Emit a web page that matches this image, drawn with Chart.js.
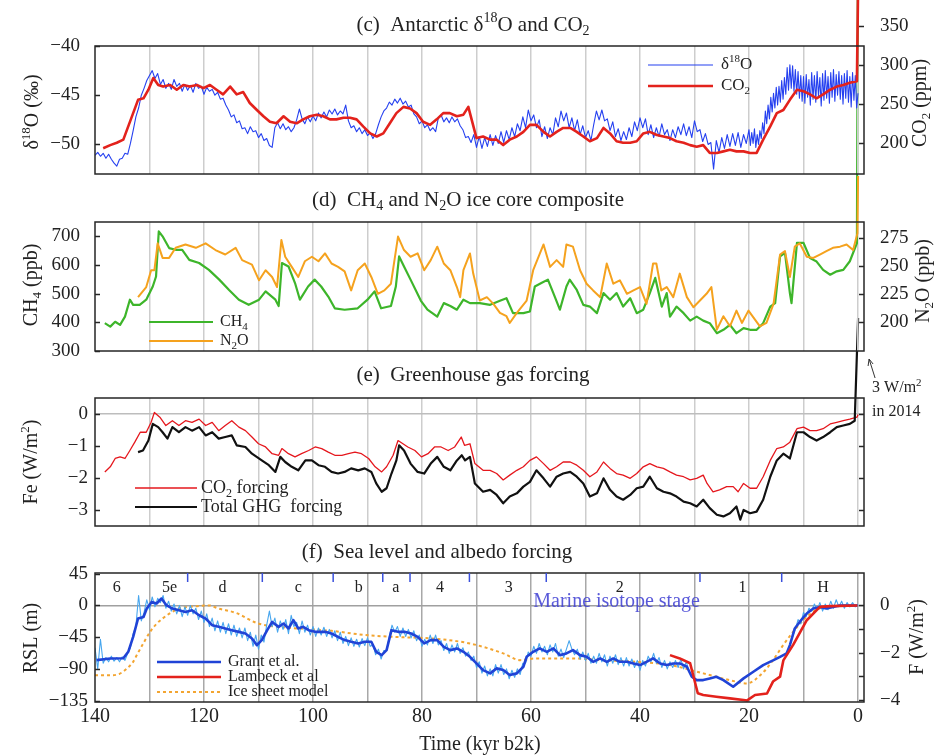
<!DOCTYPE html>
<html>
<head>
<meta charset="utf-8">
<title>Glacial cycle records</title>
<script src="https://cdn.jsdelivr.net/npm/chart.js@4.4.1/dist/chart.umd.min.js"></script>
<style>
  html, body { margin: 0; padding: 0; background: #fff; }
  #wrap { position: relative; width: 938px; height: 756px; }
  #wrap canvas { position: absolute; left: 0; top: 0; }
</style>
</head>
<body>
<div id="wrap">
  <canvas id="panelF" width="938" height="756"></canvas>
  <canvas id="panelE" width="938" height="756"></canvas>
  <canvas id="panelD" width="938" height="756"></canvas>
  <canvas id="panelC" width="938" height="756"></canvas>
</div>
<script>
// all ages in kyr b2k, time runs right to left
const timeTicks = [140, 130, 120, 110, 100, 90, 80, 70, 60, 50, 40, 30, 20, 10, 0];

// (c) Antarctic d18O: every 0.5 kyr from 140 to 20.5 kyr ...
const d18oStart = 140, d18oStep = 0.5;
const d18o = [
  -51.1, -50.8, -51.2, -50.9, -51.4, -51.0, -51.5, -51.9, -52.2, -51.5,
  -51.4, -50.9, -51.0, -49.9, -48.6, -47.2, -46.3, -45.0, -44.3, -43.5,
  -43.0, -42.5, -43.3, -42.8, -43.9, -43.4, -44.3, -43.8, -44.4, -43.4,
  -44.1, -43.8, -44.6, -43.9, -44.5, -44.0, -44.7, -43.8, -44.3, -44.1,
  -44.9, -44.2, -44.6, -44.4, -45.0, -44.7, -45.4, -45.3, -46.0, -46.5,
  -47.2, -47.0, -47.8, -47.6, -48.4, -48.3, -48.9, -48.2, -48.7, -48.6,
  -49.3, -48.9, -49.6, -49.4, -50.1, -50.3, -48.3, -47.8, -48.4, -47.9,
  -48.5, -48.2, -48.7, -48.3, -47.5, -46.4, -47.4, -47.9, -47.2, -47.7,
  -47.1, -47.6, -46.8, -47.3, -46.7, -47.2, -46.5, -46.9, -46.4, -47.0,
  -46.6, -46.9, -46.0, -47.6, -48.3, -48.1, -48.7, -48.3, -48.9, -48.5,
  -49.1, -48.8, -49.4, -48.9, -48.0, -47.2, -46.6, -46.3, -45.7, -46.0,
  -45.4, -45.8, -45.3, -45.9, -45.6, -46.2, -46.0, -46.9, -47.2, -47.9,
  -47.6, -48.3, -48.0, -48.6, -48.3, -48.7, -47.3, -47.0, -47.7, -47.3,
  -47.8, -47.2, -47.7, -47.4, -48.1, -48.5, -49.3, -49.2, -49.8, -49.0,
  -50.3, -49.2, -50.4, -49.3, -50.2, -49.0, -50.1, -49.1, -49.9, -48.7,
  -49.8, -48.6, -49.5, -48.3, -49.2, -47.9, -48.6, -47.2, -48.3, -46.5,
  -47.6, -47.0, -48.3, -47.5, -49.2, -48.2, -49.4, -48.3, -49.0, -47.3,
  -48.2, -46.6, -47.6, -46.8, -48.3, -47.3, -48.6, -47.5, -49.0, -48.1,
  -49.3, -48.6, -49.6, -48.0, -46.6, -47.5, -46.5, -47.6, -47.4, -48.6,
  -47.7, -49.2, -48.4, -49.6, -48.7, -49.5, -48.3, -49.2, -47.7, -48.6,
  -47.3, -48.3, -47.4, -49.0, -48.0, -49.3, -48.3, -49.2, -47.9, -49.0,
  -48.5, -49.6, -48.5, -49.3, -48.2, -49.0, -47.9, -49.1, -48.2, -49.3,
  -47.6, -48.7, -48.5, -49.7, -48.9, -50.0, -49.8, -52.5, -49.6, -50.8,
  -49.3, -50.4, -49.0, -50.2, -48.9, -50.1, -48.8, -50.3, -49.0, -49.9
];
// ... and every 0.25 kyr from 20 kyr to the present
const d18oLateStart = 20, d18oLateStep = 0.25;
const d18oLate = [
  -48.5, -50.1, -48.8, -49.9, -48.4, -50.3, -49.0, -50.0, -48.6, -49.4,
  -47.8, -48.9, -46.6, -47.9, -46.0, -47.4, -45.2, -46.7, -44.8, -46.3,
  -44.2, -46.0, -44.1, -45.7, -43.5, -45.4, -43.2, -44.9, -42.2, -44.5,
  -41.9, -44.3, -42.0, -44.6, -42.4, -44.9, -42.6, -45.3, -43.0, -45.6,
  -43.1, -45.8, -42.9, -45.2, -43.4, -46.0, -42.7, -45.4, -43.0, -45.7,
  -42.6, -45.1, -43.2, -46.1, -42.8, -45.5, -42.5, -45.3, -43.1, -45.8,
  -42.7, -45.2, -42.4, -45.6, -42.9, -45.0, -42.6, -45.4, -43.0, -45.9,
  -42.8, -45.3, -42.5, -45.7, -43.1, -46.2, -42.7, -45.5, -43.0, -46.3,
  -44.8
];

// (c) CO2 (ppm); the last point is the 2014 value
const co2Age = [
  138.5, 137.2, 136.0, 134.8, 133.9, 133.0, 132.1, 131.1, 130.2, 129.3,
  128.4, 127.5, 126.2, 125.0, 123.8, 122.6, 121.3, 120.1, 118.9, 117.7,
  116.5, 115.2, 114.0, 112.8, 111.6, 110.3, 109.1, 107.9, 106.7, 105.4,
  104.2, 103.0, 101.8, 100.6, 99.3, 98.1, 96.9, 95.7, 94.4, 93.2,
  92.0, 90.8, 89.5, 88.3, 87.1, 85.9, 84.7, 83.4, 82.2, 81.0,
  79.8, 78.5, 77.3, 76.1, 74.9, 73.6, 72.4, 71.5, 70.0, 68.8,
  67.5, 66.3, 65.1, 63.9, 62.6, 61.4, 60.2, 59.0, 57.7, 56.5,
  55.3, 54.1, 52.8, 51.6, 50.4, 49.2, 47.9, 46.7, 45.5, 44.3,
  43.1, 41.8, 40.6, 39.4, 38.2, 36.9, 35.7, 34.5, 33.3, 32.0,
  30.8, 29.6, 28.4, 27.2, 25.9, 24.7, 23.5, 22.3, 21.0, 19.8,
  18.6, 17.4, 16.1, 14.9, 13.7, 12.5, 11.2, 10.0, 8.8, 7.6,
  6.4, 5.1, 3.9, 2.7, 1.5, 0.2, -0.014
];
const co2Ppm = [
  193, 197, 200, 204, 221, 238, 255, 257, 268, 283,
  274, 272, 274, 268, 274, 272, 274, 270, 274, 268,
  262, 272, 262, 265, 251, 242, 234, 227, 225, 234,
  227, 225, 230, 234, 236, 234, 230, 230, 232, 232,
  230, 221, 212, 208, 212, 225, 238, 246, 244, 238,
  227, 223, 230, 238, 238, 234, 236, 246, 206, 208,
  204, 204, 197, 204, 208, 214, 223, 223, 214, 208,
  214, 219, 219, 214, 208, 202, 206, 219, 212, 202,
  200, 200, 202, 212, 214, 210, 208, 206, 202, 200,
  197, 195, 197, 187, 187, 189, 191, 189, 189, 187,
  187, 204, 221, 238, 242, 255, 268, 266, 262, 257,
  262, 268, 272, 274, 277, 279, 398
];
const d18oTicks = [-50, -45, -40];
const co2Ticks = [200, 250, 300, 350];

// (d) CH4 and N2O (ppb)
const ch4Age = [
  138.2, 137.2, 136.3, 135.4, 134.5, 133.6, 133.0, 131.8, 130.6, 129.4,
  128.8, 128.3, 127.6, 126.4, 125.2, 124.0, 122.7, 120.9, 119.1, 117.2,
  115.4, 113.6, 111.8, 109.9, 108.7, 106.9, 106.3, 105.7, 104.5, 103.3,
  102.4, 100.9, 99.7, 98.5, 97.2, 96.0, 94.2, 91.8, 90.0, 88.7,
  87.5, 85.7, 84.8, 84.2, 83.3, 82.1, 80.2, 79.0, 77.2, 76.0,
  74.8, 73.6, 72.4, 71.2, 69.4, 67.5, 65.7, 64.5, 63.3, 61.4,
  60.2, 59.3, 58.1, 56.9, 55.9, 54.7, 53.5, 52.9, 51.6, 50.4,
  49.2, 47.9, 46.7, 45.5, 44.3, 43.1, 41.8, 40.6, 39.4, 38.2,
  37.2, 36.0, 35.1, 34.5, 33.3, 32.0, 30.8, 29.6, 28.4, 27.2,
  25.9, 24.7, 23.5, 22.3, 21.0, 19.8, 18.6, 17.4, 16.1, 15.2,
  14.3, 13.4, 12.5, 12.2, 11.2, 10.0, 8.8, 7.6, 6.4, 5.1,
  3.9, 2.7, 1.5, 0.2, -0.014
];
const ch4Ppb = [
  397, 385, 402, 391, 420, 479, 461, 461, 479, 525,
  560, 717, 700, 659, 653, 653, 618, 607, 583, 549,
  513, 479, 461, 479, 508, 479, 457, 607, 595, 537,
  479, 525, 549, 525, 490, 449, 444, 449, 479, 508,
  449, 457, 525, 630, 595, 549, 475, 444, 420, 467,
  457, 444, 479, 467, 467, 461, 475, 484, 432, 432,
  438, 525, 537, 549, 502, 444, 525, 549, 513, 461,
  455, 432, 502, 479, 502, 455, 484, 432, 444, 502,
  555, 455, 502, 420, 455, 432, 406, 420, 406, 397,
  362, 374, 391, 362, 380, 374, 374, 397, 455, 467,
  630, 642, 502, 467, 677, 677, 624, 612, 583, 566,
  578, 583, 613, 676, 1830
];
const n2oAge = [
  132.1, 130.6, 129.7, 129.1, 128.5, 127.6, 126.4, 125.2, 123.4, 121.5,
  119.7, 117.9, 116.1, 114.2, 113.0, 111.2, 109.9, 108.7, 107.5, 106.6,
  105.8, 105.1, 103.9, 102.7, 101.5, 100.2, 99.0, 97.8, 96.6, 95.4,
  94.2, 93.0, 91.8, 90.5, 89.3, 88.1, 86.9, 85.7, 84.4, 83.3,
  82.1, 80.8, 79.6, 78.4, 77.2, 76.0, 74.8, 73.6, 73.0, 72.4,
  71.2, 70.6, 69.4, 68.1, 66.9, 65.7, 64.5, 63.9, 62.6, 60.8,
  59.6, 57.7, 56.5, 55.3, 54.1, 53.5, 52.3, 51.0, 49.8, 48.6,
  47.3, 46.1, 44.9, 43.7, 42.4, 41.2, 40.0, 38.8, 37.6, 37.0,
  36.1, 35.1, 33.9, 32.7, 31.4, 30.2, 29.0, 27.8, 26.9, 25.9,
  24.7, 23.5, 22.3, 21.3, 20.1, 18.9, 18.0, 16.8, 15.5, 14.3,
  13.4, 12.5, 11.6, 10.7, 9.4, 8.2, 7.0, 5.8, 4.6, 3.3,
  2.1, 0.9, 0.1, -0.014
];
const n2oPpb = [
  222, 231, 246, 246, 270, 257, 257, 266, 269, 266,
  270, 264, 260, 266, 255, 251, 237, 246, 240, 231,
  273, 258, 249, 240, 254, 258, 254, 261, 252, 249,
  245, 228, 246, 252, 240, 225, 228, 234, 276, 264,
  258, 261, 246, 255, 267, 252, 246, 231, 222, 246,
  261, 243, 219, 222, 216, 208, 205, 199, 208, 219,
  246, 269, 249, 255, 249, 269, 267, 246, 234, 228,
  222, 252, 234, 237, 225, 228, 231, 216, 252, 252,
  228, 231, 222, 243, 222, 213, 219, 225, 231, 193,
  205, 196, 210, 199, 210, 202, 196, 199, 216, 260,
  263, 240, 267, 270, 258, 257, 260, 263, 266, 267,
  269, 264, 279, 330
];
const ch4Ticks = [300, 400, 500, 600, 700];
const n2oTicks = [200, 225, 250, 275];

// (e) greenhouse gas forcing (W/m2)
const fCo2Age = [
  138.2, 137.2, 136.3, 135.4, 134.5, 133.6, 132.7, 131.7, 130.6, 129.7,
  129.1, 128.1, 127.0, 125.8, 124.6, 123.4, 122.2, 120.9, 119.7, 118.5,
  117.3, 116.1, 114.9, 113.6, 112.4, 111.2, 110.0, 108.7, 107.5, 106.3,
  105.7, 104.5, 103.3, 102.1, 100.8, 99.6, 98.4, 97.2, 96.0, 94.7,
  93.5, 92.3, 91.1, 89.8, 88.6, 87.4, 86.5, 85.3, 84.4, 83.5,
  82.6, 81.3, 80.1, 78.9, 77.7, 76.5, 75.2, 74.0, 72.8, 72.2,
  71.2, 70.3, 68.8, 67.5, 66.3, 65.1, 63.9, 62.6, 61.4, 60.2,
  59.0, 57.7, 56.5, 55.3, 54.1, 52.8, 51.6, 50.4, 49.2, 47.9,
  46.7, 45.5, 44.3, 43.1, 41.8, 40.6, 39.4, 38.2, 36.9, 35.7,
  34.5, 33.3, 32.0, 30.8, 29.6, 28.4, 27.7, 26.6, 25.4, 24.1,
  22.9, 22.0, 21.0, 19.8, 18.6, 17.4, 16.1, 14.9, 13.7, 12.5,
  11.2, 10.0, 8.8, 7.6, 6.4, 5.1, 3.9, 2.7, 1.5, 0.2,
  -0.014
];
const fCo2 = [
  -1.81, -1.65, -1.39, -1.34, -1.39, -1.14, -0.88, -0.57, -0.57, -0.26,
  0.05, -0.10, -0.36, -0.21, -0.36, -0.21, -0.26, -0.16, -0.36, -0.26,
  -0.52, -0.36, -0.21, -0.41, -0.52, -0.72, -0.93, -1.03, -1.24, -1.29,
  -1.08, -1.24, -1.34, -1.24, -1.14, -1.03, -1.08, -1.19, -1.29, -1.29,
  -1.24, -1.19, -1.24, -1.39, -1.65, -1.81, -1.65, -1.29, -0.83, -0.93,
  -1.03, -1.14, -1.34, -1.24, -1.03, -1.03, -1.14, -1.03, -0.72, -0.98,
  -0.93, -1.55, -1.76, -1.76, -1.86, -2.06, -1.91, -1.76, -1.65, -1.45,
  -1.34, -1.55, -1.76, -1.65, -1.50, -1.50, -1.60, -1.76, -1.96, -1.81,
  -1.50, -1.70, -1.86, -1.91, -2.01, -1.86, -1.65, -1.55, -1.65, -1.70,
  -1.81, -1.91, -1.96, -2.06, -2.01, -1.91, -2.17, -2.43, -2.37, -2.27,
  -2.27, -2.43, -2.17, -2.32, -2.32, -1.96, -1.45, -1.08, -1.03, -0.88,
  -0.46, -0.41, -0.52, -0.52, -0.46, -0.31, -0.26, -0.21, -0.16, -0.10,
  -0.02
];
const fTotalAge = [
  132.1, 131.2, 130.2, 129.4, 128.4, 127.6, 126.7, 125.8, 124.6, 123.4,
  122.2, 120.9, 119.7, 118.5, 117.3, 116.1, 114.9, 114.0, 112.4, 111.2,
  109.4, 108.1, 106.9, 106.0, 105.1, 103.9, 102.7, 101.4, 100.2, 99.0,
  97.8, 96.6, 95.4, 94.2, 93.0, 91.7, 90.5, 89.3, 88.4, 87.4,
  86.5, 85.6, 84.7, 84.2, 83.3, 82.1, 80.8, 79.6, 78.4, 77.2,
  76.0, 74.8, 73.6, 72.7, 72.1, 71.2, 70.3, 68.8, 67.5, 66.3,
  65.1, 63.9, 62.6, 61.4, 60.2, 59.0, 57.7, 56.5, 55.3, 54.1,
  52.8, 51.6, 50.4, 49.2, 47.9, 46.7, 45.5, 44.3, 43.1, 41.8,
  40.6, 39.4, 38.2, 36.9, 35.7, 34.5, 33.3, 32.0, 30.8, 29.6,
  28.4, 27.2, 25.9, 24.7, 23.5, 22.3, 21.6, 21.0, 19.8, 18.6,
  17.4, 16.1, 14.9, 13.7, 12.5, 11.2, 10.0, 8.8, 7.6, 6.4,
  5.1, 3.9, 2.7, 1.5, 0.6, -0.014
];
const fTotal = [
  -1.19, -1.14, -0.83, -0.31, -0.41, -0.57, -0.77, -0.41, -0.57, -0.41,
  -0.52, -0.41, -0.67, -0.57, -0.77, -0.72, -0.67, -0.98, -1.03, -1.24,
  -1.45, -1.60, -1.81, -1.34, -1.50, -1.65, -1.76, -1.45, -1.45, -1.60,
  -1.65, -1.81, -1.86, -1.81, -1.70, -1.76, -1.70, -1.81, -2.17, -2.43,
  -2.32, -1.86, -1.45, -0.98, -1.14, -1.55, -1.81, -1.86, -1.55, -1.34,
  -1.65, -1.76, -1.45, -1.29, -1.45, -1.34, -2.17, -2.43, -2.37, -2.53,
  -2.79, -2.58, -2.48, -2.27, -2.12, -1.76, -2.01, -2.27, -1.96, -1.86,
  -1.81, -1.96, -2.17, -2.58, -2.48, -2.01, -2.37, -2.58, -2.68, -2.53,
  -2.32, -2.27, -1.96, -2.32, -2.43, -2.48, -2.58, -2.74, -2.79, -2.89,
  -2.68, -2.94, -3.15, -3.20, -3.10, -2.89, -3.30, -3.00, -3.10, -3.05,
  -2.68, -1.96, -1.45, -1.24, -1.39, -0.57, -0.57, -0.72, -0.83, -0.72,
  -0.57, -0.41, -0.36, -0.31, -0.21, 3.0
];
const feTicks = [-3, -2, -1, 0];

// (f) relative sea level (m); raw record every 0.5 kyr from 140 kyr, null = no data
const rslStart = 140, rslStep = 0.5;
const rslRaw = [
  -60, -90, -48, -82, -74, -80, -72, -79, -74, -80,
  -73, -78, -68, -60, -40, -30, 14, -22, -10, 8,
  -6, 12, -2, 10, 4, 14, -4, 6, -8, 2,
  -12, 0, -16, -2, -14, 0, -12, -4, -20, -8,
  -24, -12, -30, -18, -36, -22, -38, -24, -40, -26,
  -42, -28, -44, -32, -46, -32, -50, -38, -58, -42,
  -62, -42, -52, -28, -8, -30, -18, -38, -22, -34,
  -20, -40, -14, -30, -24, -40, -22, -38, -28, -42,
  -30, -44, -32, -42, -31, -44, -34, -46, -36, -50,
  -38, -54, -44, -57, -46, -58, -48, -59, -47, -57,
  -46, -58, -56, -70, -62, -76, -64, -64, -44, -28,
  -38, -30, -44, -32, -44, -34, -46, -36, -50, -42,
  -58, -48, -56, -42, -54, -42, -56, -50, -64, -54,
  -68, -56, -66, -54, -68, -60, -72, -66, -78, -72,
  -88, -80, -96, -86, -100, -90, -100, -84, -96, -84,
  -98, -90, -104, -92, -102, -90, -98, -82, -82, -66,
  -72, -58, -68, -54, -66, -58, -70, -56, -66, -54,
  -72, -62, -74, -62, -50, -62, -70, -62, -76, -66,
  -78, -68, -82, -72, -82, -68, -80, -70, -86, -72,
  -82, -70, -84, -74, -86, -74, -86, -76, -88, -78,
  -92, -78, -86, -72, -80, -68, -82, -74, -88, -78,
  -90, -80, -88, -78, -88, -76, -90, -80, -94, -98,
  -102, null, null, null, null, null, null, null, null, null,
  null, null, null, null, null, null, null, null, null, null,
  null, null, null, null, null, null, null, null, null, null,
  null, null, null, null, null, null, -44, -34, -20, -26,
  -10, -16, -4, -8, 2, -6, 4, -8, 2, -6,
  6, -4, 8, -2, 6, -4, 4, -2, 4, -2,
  2
];
const grantAge = [
  139.7, 137.2, 134.8, 133.9, 133.0, 132.1, 131.1, 130.5, 129.6, 128.7,
  127.8, 126.9, 125.8, 124.6, 123.4, 122.2, 120.9, 119.7, 118.5, 117.3,
  116.1, 114.9, 113.6, 112.4, 111.2, 110.3, 109.4, 108.4, 107.5, 106.3,
  105.4, 104.5, 103.6, 102.7, 101.8, 100.8, 99.6, 97.8, 96.6, 95.4,
  94.2, 93.0, 91.7, 90.5, 89.3, 88.4, 87.4, 86.5, 85.6, 84.4,
  83.2, 82.0, 80.8, 79.6, 78.4, 77.2, 76.0, 74.8, 73.6, 72.4,
  71.2, 70.0, 68.8, 67.5, 66.3, 65.1, 63.9, 62.6, 61.4, 60.8,
  59.6, 58.4, 57.1, 55.9, 54.7, 53.5, 52.3, 51.0, 49.8, 48.6,
  47.3, 46.1, 44.9, 43.7, 42.4, 41.2, 40.0, 38.8, 37.6, 36.3,
  35.1, 33.9, 32.7, 31.4, 30.5, 29.6, 28.4, 27.2, 26.0, 24.7,
  22.9, 21.0, 19.2, 17.4, 15.5, 14.3, 13.1, 12.5, 11.6, 10.7,
  9.4, 8.2, 7.0, 5.8, 4.6, 3.3, 2.1, 0.9, 0.1
];
const grantRsl = [
  -77.6, -75.2, -75.0, -65.8, -44.6, -18.6, -16.3, -4.4, 5.0, 2.7,
  9.8, 0.3, -4.4, -6.8, -9.2, -6.8, -13.9, -18.6, -28.0, -30.4,
  -32.7, -35.1, -37.5, -39.8, -46.8, -56.3, -49.2, -35.1, -23.4, -30.4,
  -25.6, -32.7, -20.9, -32.7, -30.4, -35.1, -37.5, -37.5, -39.8, -44.6,
  -49.2, -51.6, -53.9, -51.6, -51.6, -65.8, -70.5, -63.4, -35.1, -37.5,
  -37.5, -39.8, -44.6, -53.9, -49.2, -49.2, -58.7, -63.4, -61.0, -65.8,
  -72.9, -82.3, -91.7, -96.4, -89.3, -91.7, -98.8, -96.4, -87.0, -72.9,
  -65.8, -61.0, -65.8, -61.0, -70.5, -68.1, -63.4, -70.5, -72.9, -80.0,
  -75.2, -80.0, -75.2, -80.0, -80.0, -82.3, -84.6, -80.0, -75.2, -82.3,
  -84.6, -82.3, -82.3, -87.0, -101.2, -105.9, -105.9, -103.5, -101.2, -105.9,
  -115.3, -103.5, -94.1, -84.6, -77.6, -72.9, -68.1, -56.3, -32.7, -23.4,
  -11.5, -4.4, -2.1, -4.4, -2.1, 0, 0, 0, 0
];
const lambeckAge = [34.5, 32.7, 30.8, 29.4, 28.4, 26.0, 23.5, 21.0, 20.4, 18.9,
  16.7, 15.6, 14.3, 13.7, 11.9, 9.4, 7.0, 5.1, 0.1];
const lambeckRsl = [-70.5, -75.2, -82.0, -124.6, -127.0, -129.5, -131.8, -134.2, -135.0, -127.0,
  -125.0, -108.0, -101.0, -78.0, -56.0, -21.0, -2.0, -1.0, 0];
const iceAge = [
  140, 137, 135.5, 134.2, 133.0, 132.3, 131.0, 129.9, 128.7, 127.5,
  126.0, 124.4, 121.3, 119.0, 117.5, 114.0, 110.3, 107.0, 104.0, 100.0,
  96.6, 90.5, 84.0, 78.0, 71.2, 65.1, 62.0, 59.0, 52.8, 46.7,
  40.6, 34.5, 28.4, 22.3, 20.4, 17.4, 15.6, 13.7, 11.9, 9.4,
  7.0, 4.5, 0
];
const iceRsl = [
  -99, -99, -97, -90, -80, -70, -52, -37.5, -26, -18,
  -10, -4, -1, 0, -4, -11, -25, -30, -32, -34,
  -36, -42, -45, -47, -54, -68, -77.6, -75.2, -75.2, -77.6,
  -80, -84.6, -96.4, -108.2, -110.6, -95, -77.6, -56, -37.5, -16,
  -4, -1, 0
];
const rslTicks = [-135, -90, -45, 0, 45];
const albedoTicks = [-4, -3, -2, -1, 0];

// marine isotope stages
const misNames = ['6', '5e', 'd', 'c', 'b', 'a', '4', '3', '2', '1', 'H'];
const misAges = [136, 126.3, 116.6, 102.7, 91.6, 84.8, 76.7, 64.1, 43.7, 21.2, 6.4];
const misBounds = [123, 109.3, 96.3, 87.2, 82.2, 71.3, 57.2, 29.0, 14.0];
const misTitleAge = 44.3;

// ---- drawing ----
const W = 938, H = 756, PLOT_L = 95, PLOT_R = 864;
const FONT = '"Liberation Serif", "Times New Roman", "DejaVu Serif", serif';
Chart.defaults.font.family = FONT;
Chart.defaults.color = '#222';

const xy = (ages, vals) => ages.map((a, i) => ({ x: a, y: vals[i] }));
const stepped = (start, step, vals) => vals.map((v, i) => ({ x: start - i * step, y: v }));
const minus = v => String(v).replace('-', '\u2212');

// text with _{sub} and ^{sup} parts
function richParts(str) {
  const parts = [];
  const re = /([_^])\{([^}]*)\}/g;
  let last = 0, m;
  while ((m = re.exec(str))) {
    if (m.index > last) parts.push({ t: str.slice(last, m.index), k: '' });
    parts.push({ t: m[2], k: m[1] });
    last = re.lastIndex;
  }
  if (last < str.length) parts.push({ t: str.slice(last), k: '' });
  return parts;
}
function drawRich(ctx, str, x, y, size, align, color) {
  const parts = richParts(str);
  const fontFor = k => (k ? Math.round(size * 0.66) : size) + 'px ' + FONT;
  let w = 0;
  parts.forEach(p => { ctx.font = fontFor(p.k); p.w = ctx.measureText(p.t).width; w += p.w; });
  let cx = align === 'center' ? x - w / 2 : align === 'right' ? x - w : x;
  ctx.fillStyle = color || '#222';
  ctx.textAlign = 'left';
  ctx.textBaseline = 'middle';
  parts.forEach(p => {
    ctx.font = fontFor(p.k);
    const dy = p.k === '^' ? -size * 0.33 : p.k === '_' ? size * 0.3 : 0;
    ctx.fillText(p.t, cx, y + dy);
    cx += p.w;
  });
}

function drawLegend(ctx, chart, L) {
  L.rows.forEach(([dsIndex, y, text]) => {
    const ds = chart.data.datasets[dsIndex];
    ctx.save();
    ctx.strokeStyle = ds.borderColor;
    ctx.lineWidth = ds.borderWidth;
    ctx.setLineDash(ds.borderDash || []);
    ctx.beginPath();
    ctx.moveTo(L.x0, y);
    ctx.lineTo(L.x1, y);
    ctx.stroke();
    ctx.restore();
    drawRich(ctx, text || ds.label, L.tx, y, L.size, 'left');
  });
}

const decorations = {
  panelC: {
    title: ['(c)  Antarctic δ^{18}O and CO_{2}', 473, 25],
    axisTitles: [['δ^{18}O (‰)', 33, 112], ['CO_{2} (ppm)', 921, 103]],
    legend: { x0: 648, x1: 713, tx: 721, size: 17, rows: [[1, 65], [0, 86]] }
  },
  panelD: {
    title: ['(d)  CH_{4} and N_{2}O ice core composite', 468, 200],
    axisTitles: [['CH_{4} (ppb)', 32, 285], ['N_{2}O (ppb)', 924, 281]],
    legend: { x0: 149, x1: 213, tx: 220, size: 16, rows: [[1, 322], [0, 341]] }
  },
  panelE: {
    title: ['(e)  Greenhouse gas forcing', 473, 375],
    axisTitles: [['Fe (W/m^{2})', 32, 462]],
    legend: { x0: 135, x1: 197, tx: 201, size: 18, rows: [[1, 488], [0, 507]] },
    extra(chart, ctx) {
      // arrow and note for the 2014 value
      const n = fTotalAge.length - 1;
      const sx = chart.scales.x.getPixelForValue(fTotalAge[n]);
      const sy = chart.scales.yL.getPixelForValue(fTotal[n]);
      ctx.strokeStyle = '#333';
      ctx.lineWidth = 1;
      ctx.beginPath();
      ctx.moveTo(sx + 17, sy + 60); ctx.lineTo(sx + 11, sy + 41);
      ctx.moveTo(sx + 11, sy + 41); ctx.lineTo(sx + 10, sy + 48);
      ctx.moveTo(sx + 11, sy + 41); ctx.lineTo(sx + 15, sy + 46);
      ctx.stroke();
      drawRich(ctx, '3 W/m^{2}', sx + 14, sy + 70, 16, 'left');
      drawRich(ctx, 'in 2014', sx + 14, sy + 94, 16, 'left');
    }
  },
  panelF: {
    title: ['(f)  Sea level and albedo forcing', 437, 552],
    axisTitles: [['RSL (m)', 32, 638], ['F (W/m^{2})', 918, 637]],
    legend: { x0: 157, x1: 221, tx: 228, size: 16, rows: [[1, 662], [0, 677], [3, 692]] },
    extra(chart, ctx) {
      const x = chart.scales.x, a = chart.chartArea;
      ctx.strokeStyle = '#3a50dc';
      ctx.lineWidth = 1.5;
      misBounds.forEach(t => {
        const px = x.getPixelForValue(t);
        ctx.beginPath(); ctx.moveTo(px, a.top); ctx.lineTo(px, a.top + 9); ctx.stroke();
      });
      misNames.forEach((s, i) => drawRich(ctx, s, x.getPixelForValue(misAges[i]), a.top + 15, 16, 'center'));
      drawRich(ctx, 'Marine isotope stage', x.getPixelForValue(misTitleAge), a.top + 29, 20, 'center', 'rgba(60,60,210,0.85)');
      drawRich(ctx, 'Time (kyr b2k)', 480, 745, 20, 'center');
    }
  }
};

const decorPlugin = {
  id: 'decor',
  afterDraw(chart) {
    const d = decorations[chart.canvas.id];
    const { ctx, chartArea: a } = chart;
    ctx.save();
    ctx.strokeStyle = '#262626';
    ctx.lineWidth = 1.5;
    ctx.strokeRect(a.left, a.top, a.right - a.left, a.bottom - a.top);
    // short tick marks pointing into the plot
    ['yL', 'yR'].forEach(id => {
      const s = chart.scales[id];
      if (!s) return;
      const x0 = s.position === 'left' ? a.left : a.right;
      const dir = s.position === 'left' ? 1 : -1;
      s.ticks.forEach(t => {
        const y = Math.round(s.getPixelForValue(t.value)) + 0.5;
        ctx.beginPath(); ctx.moveTo(x0, y); ctx.lineTo(x0 + dir * 5, y); ctx.stroke();
      });
    });
    drawRich(ctx, d.title[0], d.title[1], d.title[2], 21, 'center');
    d.axisTitles.forEach(([t, x, y]) => {
      ctx.save();
      ctx.translate(x, y);
      ctx.rotate(-Math.PI / 2);
      drawRich(ctx, t, 0, 0, 20, 'center');
      ctx.restore();
    });
    drawLegend(ctx, chart, d.legend);
    if (d.extra) d.extra(chart, ctx);
    ctx.restore();
  }
};

function xAxis(showLabels, gridColor) {
  return {
    type: 'linear', reverse: true, min: -1.1, max: 140,
    afterBuildTicks: s => { s.ticks = timeTicks.map(v => ({ value: v })); },
    afterFit: s => { s.height = showLabels ? H - 702 : 0; },
    border: { display: false },
    grid: { drawTicks: false, lineWidth: 1.5, color: c => (c.tick && c.tick.value === 140 ? 'rgba(0,0,0,0)' : gridColor) },
    ticks: {
      display: showLabels, padding: 3, maxRotation: 0, autoSkip: false,
      font: { size: 20, family: FONT }, color: '#222',
      callback: v => (v % 20 === 0 ? String(v) : '')
    }
  };
}

function yAxis(side, min, max, ticks, opts = {}) {
  return {
    type: 'linear', position: side, min, max,
    afterBuildTicks: s => { s.ticks = ticks.map(v => ({ value: v })); },
    afterFit: s => { s.width = side === 'left' ? PLOT_L : W - PLOT_R; },
    border: { display: false },
    grid: opts.zeroLine
      ? { drawTicks: false, lineWidth: 1.5, color: c => (c.tick && c.tick.value === 0 ? opts.zeroLine : 'rgba(0,0,0,0)') }
      : { display: false },
    ticks: {
      display: opts.labels !== false, autoSkip: false,
      padding: side === 'left' ? 7 : 8,
      font: { size: 19, family: FONT }, color: '#222',
      callback: opts.callback || (v => minus(v))
    }
  };
}

function panel(id, top, bottom, showTime, gridColor, datasets, yL, yR) {
  return new Chart(document.getElementById(id), {
    type: 'line',
    data: { datasets },
    options: {
      responsive: false, animation: false, devicePixelRatio: 1, events: [],
      layout: { padding: { top, bottom: showTime ? 0 : H - bottom, left: 0, right: 0 } },
      elements: { point: { radius: 0 }, line: { tension: 0, borderJoinStyle: 'round' } },
      plugins: { legend: { display: false }, tooltip: { enabled: false } },
      scales: { x: xAxis(showTime, gridColor), yL, yR }
    },
    plugins: [decorPlugin]
  });
}

// bottom panel first so the upper panels paint over it
panel('panelF', 573, 702, true, '#a8a8a8', [
  { label: 'Lambeck et al', data: xy(lambeckAge, lambeckRsl), yAxisID: 'yL', borderColor: '#e3221c', borderWidth: 2.6 },
  { label: 'Grant et al.', data: xy(grantAge, grantRsl), yAxisID: 'yL', borderColor: '#2043d6', borderWidth: 2.6 },
  { label: 'Grant raw', data: stepped(rslStart, rslStep, rslRaw), yAxisID: 'yL', borderColor: '#47a6ee', borderWidth: 1.1 },
  { label: 'Ice sheet model', data: xy(iceAge, iceRsl), yAxisID: 'yL', borderColor: '#f3a531', borderWidth: 2,
    borderDash: [3, 3], cubicInterpolationMode: 'monotone' }
], yAxis('left', -137, 46, rslTicks, { zeroLine: '#a0a0a0' }),
   yAxis('right', -4.08, 1.36, albedoTicks, { callback: v => (v % 2 === 0 ? minus(v) : '') }));

panel('panelE', 398, 526, false, '#cdcdcd', [
  { label: 'Total GHG  forcing', data: xy(fTotalAge, fTotal), yAxisID: 'yL', borderColor: '#111', borderWidth: 2.2, clip: false },
  { label: 'CO_{2} forcing', data: xy(fCo2Age, fCo2), yAxisID: 'yL', borderColor: '#e5171d', borderWidth: 1.3 }
], yAxis('left', -3.5, 0.5, feTicks, { zeroLine: '#bdbdbd' }),
   yAxis('right', -3.5, 0.5, feTicks, { labels: false }));

panel('panelD', 222, 351, false, '#cdcdcd', [
  { label: 'N_{2}O', data: xy(n2oAge, n2oPpb), yAxisID: 'yR', borderColor: '#f5a21e', borderWidth: 2, clip: false },
  { label: 'CH_{4}', data: xy(ch4Age, ch4Ppb), yAxisID: 'yL', borderColor: '#3db52a', borderWidth: 2.2, clip: false }
], yAxis('left', 300, 750, ch4Ticks),
   yAxis('right', 174, 289, n2oTicks));

// the d18O record joins its two sampling resolutions into one line
const d18oPoints = stepped(d18oStart, d18oStep, d18o).concat(stepped(d18oLateStart, d18oLateStep, d18oLate));

panel('panelC', 46, 174, false, '#cdcdcd', [
  { label: 'CO_{2}', data: xy(co2Age, co2Ppm), yAxisID: 'yR', borderColor: '#e3221c', borderWidth: 2.6, clip: false },
  { label: 'δ^{18}O', data: d18oPoints, yAxisID: 'yL', borderColor: '#2540f0', borderWidth: 1.1 }
], yAxis('left', -53, -40, d18oTicks),
   yAxis('right', 160, 324, co2Ticks));
</script>
</body>
</html>
